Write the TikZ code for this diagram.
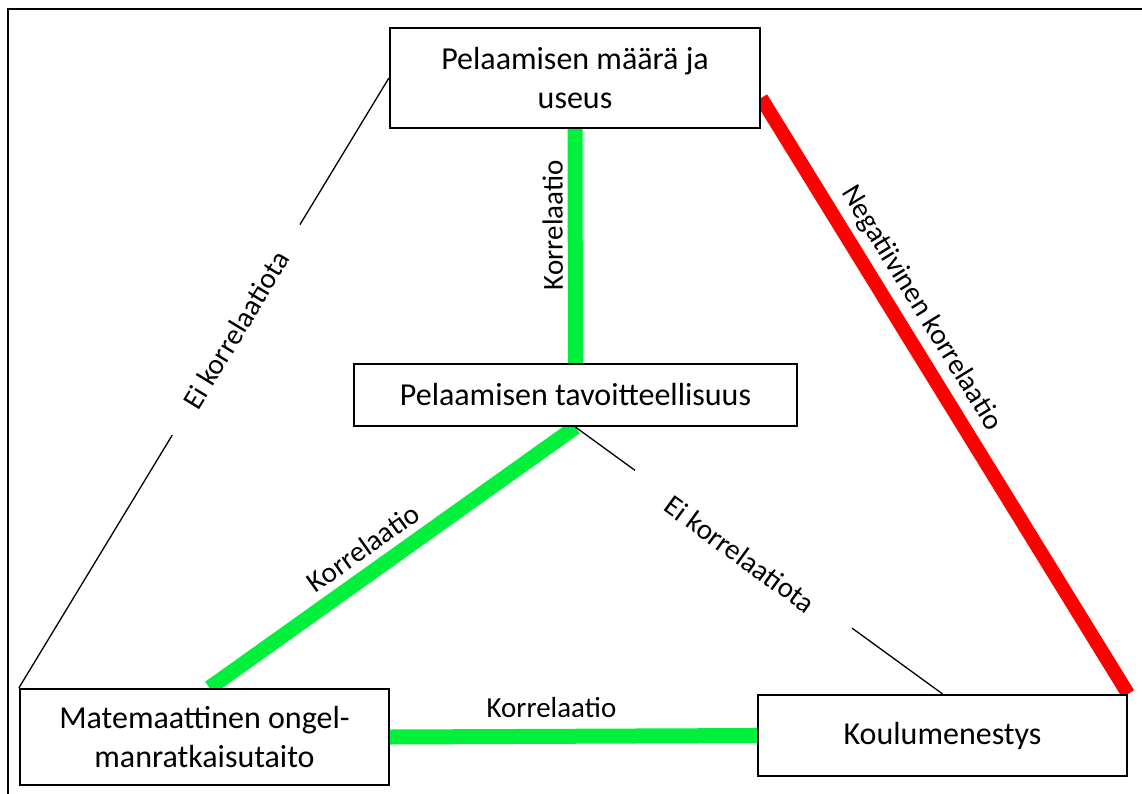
\documentclass[tikz,border=0pt]{standalone}
\usepackage{fontspec}
\setmainfont{Carlito}
\usetikzlibrary{calc,backgrounds}
\definecolor{corrgreen}{RGB}{0,240,60}
\definecolor{negred}{RGB}{255,0,0}
\begin{document}
\begin{tikzpicture}[x=1pt,y=-1pt,
  box/.style={draw=black, line width=2.2pt, fill=white, align=center, inner sep=0pt, font=\fontsize{32}{39}\selectfont},
  greenline/.style={draw=corrgreen, line width=15pt},
  redline/.style={draw=negred, line width=14pt},
  thinline/.style={draw=black, line width=1.3pt},
  lbl/.style={font=\fontsize{29}{34}\selectfont, inner sep=0pt, sloped},
  gaplbl/.style={lbl, fill=white, inner ysep=3pt}
]
\useasboundingbox (0,0) rectangle (1142,794);
\begin{scope}
  \clip (0,0) rectangle (1142,794);
  \draw[line width=2.6pt] (8,9) rectangle (1170,820);
\end{scope}

\node[box, minimum width=370pt, minimum height=100pt] (top) at (575,78) {Pelaamisen määrä ja\\useus};
\node[box, minimum width=443pt, minimum height=62pt] (mid) at (575.5,395) {Pelaamisen tavoitteellisuus};
\node[box, minimum width=369pt, minimum height=96pt] (bl) at (204.5,737) {Matemaattinen ongel-\\manratkaisutaito};
\node[box, minimum width=369pt, minimum height=81pt] (br) at (942.5,735.5) {Koulumenestys};

\begin{scope}[on background layer]
  \draw[greenline] (mid.north) -- node[lbl, allow upside down, pos=0.589, yshift=22.5pt] {Korrelaatio} (top.south);
  \draw[greenline] ($(bl.north)+(5,0)$) -- node[lbl, pos=0.459, yshift=25pt] {Korrelaatio} (mid.south);
  \draw[greenline] (bl.east) -- node[lbl, pos=0.44, yshift=29pt] {Korrelaatio} (br.west);
  \draw[redline] ($(top.east)+(0,20)$) -- node[lbl, pos=0.376, yshift=26pt] {Negatiivinen korrelaatio} (br.north east);
  \draw[thinline] (bl.north west) -- node[gaplbl, pos=0.587, inner xsep=34pt] {Ei korrelaatiota} (top.west);
  \draw[thinline] (mid.south) -- node[gaplbl, pos=0.458, yshift=-6pt, inner xsep=45pt] {Ei korrelaatiota} (br.north);
\end{scope}
\end{tikzpicture}
\end{document}
